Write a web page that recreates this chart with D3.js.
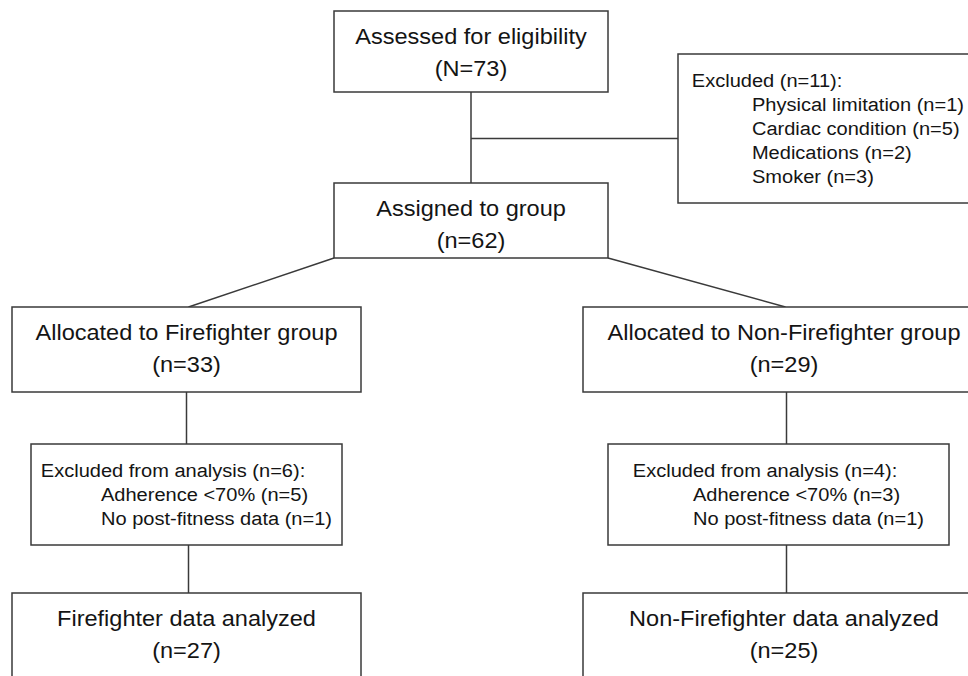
<!DOCTYPE html>
<html>
<head>
<meta charset="utf-8">
<script src="https://cdn.jsdelivr.net/npm/d3@7"></script>
<style>
  html, body { margin: 0; padding: 0; background: #fff; }
  svg { display: block; }
  text { font-family: "Liberation Sans", Arial, sans-serif; fill: #141414; }
</style>
</head>
<body>
<div id="chart"></div>
<script>
// ----------------------------DATA-------------------------------//
const stageTitles = [
  'Assessed for eligibility',
  'Assigned to group',
  'Allocated to Firefighter group',
  'Allocated to Non-Firefighter group',
  'Firefighter data analyzed',
  'Non-Firefighter data analyzed',
];
const stageCounts = ['N=73', 'n=62', 'n=33', 'n=29', 'n=27', 'n=25'];

const exclusionHeads = [
  'Excluded (n=11):',
  'Excluded from analysis (n=6):',
  'Excluded from analysis (n=4):',
];
const exclusionReasons = [
  ['Physical limitation', 'Cardiac condition', 'Medications', 'Smoker'],
  ['Adherence <70%', 'No post-fitness data'],
  ['Adherence <70%', 'No post-fitness data'],
];
const exclusionCounts = [
  [1, 5, 2, 3],
  [5, 1],
  [3, 1],
];

// ----------------------------LAYOUT-----------------------------//
const width = 968;
const height = 676;

// box frames, same order as stageTitles
const stageFrames = [
  { x0: 334, x1: 608, y0: 11, y1: 92 },
  { x0: 334, x1: 608, y0: 183, y1: 258 },
  { x0: 12, x1: 361, y0: 307, y1: 392 },
  { x0: 583, x1: 983, y0: 307, y1: 392 },
  { x0: 12, x1: 361, y0: 593, y1: 720 },
  { x0: 583, x1: 990, y0: 593, y1: 720 },
];
// box frames, same order as exclusionHeads
const exclusionFrames = [
  { x0: 678, x1: 978, y0: 54, y1: 203 },
  { x0: 31, x1: 342, y0: 444, y1: 545 },
  { x0: 608, x1: 949, y0: 444, y1: 545 },
];

const mainFont = 22;
const smallFont = 19;
const stretch = 1.07; // the source figure is slightly widened
const smallStretch = 1.055;
const lineGap = 32;
const smallGap = 24;
const indent = 57;

const svg = d3.select('#chart').append('svg')
  .attr('width', width)
  .attr('height', height)
  .attr('viewBox', `0 0 ${width} ${height}`);

const lineColor = '#3a3a3a';
const cx = f => (f.x0 + f.x1) / 2;

// ---------------------------CONNECTORS--------------------------//
const link = d3.line();
const s = stageFrames;
const e = exclusionFrames;
const connectors = [
  [[cx(s[0]), s[0].y1], [cx(s[0]), s[1].y0]],
  [[cx(s[0]), (s[0].y1 + s[1].y0) / 2 + 1], [e[0].x0, (s[0].y1 + s[1].y0) / 2 + 1]],
  [[s[1].x0, s[1].y1], [cx(s[2]) + 2, s[2].y0]],
  [[s[1].x1, s[1].y1], [cx(s[5]) - 1, s[3].y0]],
  [[cx(e[1]), s[2].y1], [cx(e[1]), e[1].y0]],
  [[cx(e[1]) + 2, e[1].y1], [cx(e[1]) + 2, s[4].y0]],
  [[cx(s[5]), s[3].y1], [cx(s[5]), e[2].y0]],
  [[cx(s[5]), e[2].y1], [cx(s[5]), s[5].y0]],
];

svg.append('g')
  .selectAll('path')
  .data(connectors)
  .join('path')
  .attr('d', d => link(d))
  .attr('fill', 'none')
  .attr('stroke', lineColor)
  .attr('stroke-width', 1.5);

// -----------------------------BOXES-----------------------------//
const drawFrame = (g, f) => g.append('rect')
  .attr('x', f.x0)
  .attr('y', f.y0)
  .attr('width', f.x1 - f.x0)
  .attr('height', f.y1 - f.y0)
  .attr('fill', '#fff')
  .attr('stroke', lineColor)
  .attr('stroke-width', 1.5);

const stages = svg.append('g')
  .selectAll('g')
  .data(stageTitles.map((t, i) => ({ title: t, count: stageCounts[i], frame: stageFrames[i] })))
  .join('g');

stages.each(function (d) {
  const g = d3.select(this);
  drawFrame(g, d.frame);
  const x = d.frame.x0 === 583 ? 784 : cx(d.frame);
  [d.title, `(${d.count})`].forEach((t, k) => {
    g.append('text')
      .attr('transform', `translate(${x},${d.frame.y0 + 33 + k * lineGap}) scale(${stretch},1)`)
      .attr('text-anchor', 'middle')
      .style('font-size', `${mainFont}px`)
      .text(t);
  });
});

const exclusions = svg.append('g')
  .selectAll('g')
  .data(exclusionHeads.map((h, i) => ({
    head: h,
    items: exclusionReasons[i].map((r, j) => `${r} (n=${exclusionCounts[i][j]})`),
    frame: exclusionFrames[i],
  })))
  .join('g');

exclusions.each(function (d) {
  const g = d3.select(this);
  drawFrame(g, d.frame);
  const lines = [d.head, ...d.items];
  const mid = (d.frame.y0 + d.frame.y1) / 2;
  const block = g.append('g');
  lines.forEach((t, k) => {
    block.append('text')
      .attr('x', k === 0 ? 0 : indent)
      .attr('y', mid + 7 + (k - (lines.length - 1) / 2) * smallGap)
      .style('font-size', `${smallFont}px`)
      .text(t);
  });
  // centre the text block inside its box
  const bw = block.node().getBBox().width * smallStretch;
  block.attr('transform', `translate(${cx(d.frame) - bw / 2},0) scale(${smallStretch},1)`);
});
</script>
</body>
</html>
